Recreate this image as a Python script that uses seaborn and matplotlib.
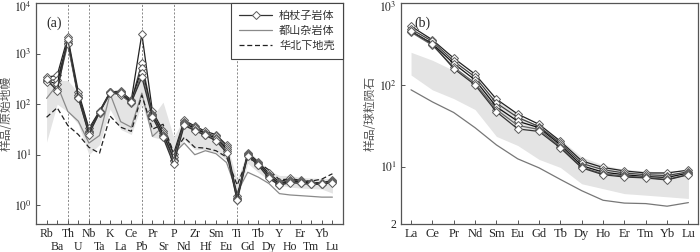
import numpy as np
import pandas as pd
import matplotlib
matplotlib.use("Agg")
import matplotlib.pyplot as plt
import matplotlib.transforms as mtransforms
from matplotlib.lines import Line2D
import seaborn as sns

# ---------------- data: panel (a) primitive-mantle normalised ----------------
spider_elements = ["Rb", "Ba", "Th", "U", "Nb", "Ta", "K", "La", "Ce", "Pb", "Pr", "Sr", "P", "Nd",
                   "Zr", "Hf", "Sm", "Eu", "Ti", "Gd", "Tb", "Dy", "Y", "Ho", "Er", "Tm", "Yb", "Lu"]
spider_guides = ["Th", "Nb", "Pb", "P", "Ti"]

bzz_a1 = [340, 370, 2100, 175, 33, 73, 175, 180, 120, 2450, 72, 30, 10.5, 48, 37, 29, 25, 15.5, 1.5, 11, 7.2, 4.3, 2.9, 3.4, 3.1, 2.8, 2.8, 3.1]
bzz_a2 = [300, 300, 1800, 150, 30, 70, 170, 175, 115, 650, 65, 27, 9.0, 45, 35, 27, 23, 14, 1.4, 10.5, 6.8, 4.0, 2.7, 3.2, 3.0, 2.7, 2.7, 3.0]
bzz_a3 = [290, 250, 1650, 140, 28, 68, 165, 160, 110, 520, 60, 25, 8.0, 42, 33, 26, 21, 13, 1.35, 10, 6.5, 3.8, 2.6, 3.0, 2.9, 2.7, 2.6, 2.9]
bzz_a4 = [280, 200, 1550, 130, 27, 66, 170, 150, 105, 420, 57, 23, 7.5, 40, 31, 25, 20, 12, 1.3, 9.8, 6.3, 3.6, 2.5, 2.9, 2.8, 2.6, 2.6, 2.9]
bzz_a5 = [320, 180, 1950, 135, 25, 70, 168, 165, 108, 340, 55, 22, 6.5, 38, 30, 24, 19, 11, 1.25, 9.5, 6.2, 3.4, 2.5, 2.8, 2.7, 2.6, 2.6, 2.8]

dsh_a = [130, 240, 72, 46, 17, 24, 160, 45, 35, 165, 23, 36, 10.5, 17, 10, 12, 10.5, 7.0, 1.8, 4.5, 3.6, 2.7, 1.7, 1.6, 1.55, 1.5, 1.45, 1.45]
ncc_lc_a = [55, 85, 38, 25, 14, 10.7, 58, 35, 29, 150, 32, 40, 11, 22, 14, 13.5, 12, 9.0, 2.5, 8.5, 7.0, 5.0, 3.2, 3.3, 3.1, 3.0, 3.3, 4.2]

band_a_hi_log = [2.34, 2.47, 2.47, 2.22, 1.55, 1.78, 2.24, 2.12, 2.04, 2.67, 1.75, 2.04, 1.35, 1.72,
                 1.52, 1.45, 1.39, 1.23, 0.50, 1.09, 0.89, 0.69, 0.59, 0.59, 0.55, 0.54, 0.53, 0.53]
band_a_lo_log = [1.25, 2.00, 1.85, 1.60, 1.00, 1.20, 1.90, 1.50, 1.40, 2.00, 1.35, 1.30, 0.95, 1.30,
                 1.10, 1.10, 1.05, 0.90, 0.10, 0.83, 0.65, 0.50, 0.40, 0.36, 0.34, 0.33, 0.32, 0.24]

# ---------------- data: panel (b) chondrite normalised ----------------
ree_elements = ["La", "Ce", "Pr", "Nd", "Sm", "Eu", "Gd", "Tb", "Dy", "Ho", "Er", "Tm", "Yb", "Lu"]

bzz_b1 = [520, 355, 212, 135, 67, 44, 33, 20.5, 11.8, 9.8, 8.9, 8.4, 8.4, 9.1]
bzz_b2 = [480, 340, 195, 125, 60, 40, 31, 19.5, 11.0, 9.2, 8.4, 8.0, 7.8, 8.7]
bzz_b3 = [450, 320, 182, 115, 54, 36, 30, 18.5, 10.3, 8.6, 8.0, 7.6, 7.4, 8.4]
bzz_b4 = [440, 305, 165, 105, 50, 32, 28.5, 17.5, 9.9, 8.2, 7.7, 7.4, 7.0, 8.1]
bzz_b5 = [455, 315, 158, 100, 47, 29, 27, 17.0, 9.7, 8.0, 7.5, 7.3, 6.9, 8.0]

dsh_b = [87, 62, 46, 30, 18.5, 12.5, 9.7, 7.0, 5.1, 3.9, 3.6, 3.55, 3.3, 3.65]

band_b_hi = [250, 200, 150, 105, 66, 43, 31, 21.5, 13.2, 10.5, 9.3, 8.9, 8.5, 8.3]
band_b_lo = [132, 87, 68, 50, 23.5, 18.2, 12.3, 9.8, 6.2, 5.4, 4.7, 4.5, 4.3, 4.1]

lab_bzz = "柏杖子岩体"
lab_dsh = "都山杂岩体"
lab_ncc = "华北下地壳"

# ---------------- style ----------------
sns.set_style("ticks")
plt.rcParams["font.family"] = ["Liberation Serif", "Noto Sans CJK SC", "DejaVu Sans"]
plt.rcParams["mathtext.fontset"] = "stix"
plt.rcParams["axes.edgecolor"] = "#555555"
plt.rcParams["axes.linewidth"] = 0.9

cjk = ["Noto Sans CJK SC", "DejaVu Sans"]
sample_colors = ["#222222", "#444444", "#111111", "#666666", "#333333"]
band_color = "#e4e4e4"

fig = plt.figure(figsize=(7.0, 2.52), dpi=100)
ax_a = fig.add_axes([36 / 700, 1 - 224 / 252, (343 - 36) / 700, (224 - 3) / 252])
ax_b = fig.add_axes([401 / 700, 1 - 224 / 252, (698 - 401) / 700, (224 - 3) / 252])


def draw_samples(ax, cats, samples):
    for i, vals in enumerate(samples):
        df = pd.DataFrame({"x": np.arange(len(cats)), "y": vals})
        sns.lineplot(data=df, x="x", y="y", ax=ax, color=sample_colors[i], lw=0.9,
                     marker="D", markersize=4.4, markerfacecolor="white",
                     markeredgecolor="#5a5a5a", markeredgewidth=0.7, zorder=5 + i)


def nudge_top_label(ax):
    lab = ax.get_yticklabels()[-1]
    off = mtransforms.ScaledTranslation(0, -2.5 / 72, fig.dpi_scale_trans)
    lab.set_transform(lab.get_transform() + off)


# ---------------- panel (a) ----------------
xa = np.arange(len(spider_elements))
ax_a.fill_between(xa, 10 ** np.array(band_a_lo_log), 10 ** np.array(band_a_hi_log),
                  color=band_color, lw=0, zorder=1)
for el in spider_guides:
    ax_a.axvline(spider_elements.index(el), color="#777777", lw=0.6, ls=(0, (2.5, 2)), zorder=0)
sns.lineplot(x=xa, y=dsh_a, ax=ax_a, color="#8a8a8a", lw=0.9, zorder=3)
sns.lineplot(x=xa, y=ncc_lc_a, ax=ax_a, color="#222222", lw=0.9, zorder=3)
ax_a.lines[-1].set_linestyle((0, (4, 2.2)))
draw_samples(ax_a, spider_elements, [bzz_a1, bzz_a2, bzz_a3, bzz_a4, bzz_a5])

ax_a.set_yscale("log")
ax_a.set_ylim(10 ** -0.37, 1e4)
ax_a.set_xlim(-1, 28)
even = xa[::2]
odd = xa[1::2]
ax_a.set_xticks(even)
ax_a.set_xticklabels(spider_elements[::2], fontsize=8.5)
ax_a.set_xticks(odd, minor=True)
ax_a.set_xticklabels(spider_elements[1::2], minor=True, fontsize=8.5)
ax_a.set_yticks([1, 10, 100, 1000, 10000])
ax_a.set_yticklabels([r"$10^{0}$", r"$10^{1}$", r"$10^{2}$", r"$10^{3}$", r"$10^{4}$"], fontsize=8.5)
ax_a.yaxis.set_minor_locator(matplotlib.ticker.NullLocator())
ax_a.tick_params(axis="both", which="both", direction="in", length=3, width=0.7, color="#555555", pad=3)
ax_a.tick_params(axis="x", which="major", pad=3)
ax_a.tick_params(axis="x", which="minor", pad=12.5)
ax_a.set_xlabel("")
ax_a.set_ylabel("样品/原始地幔", family=cjk, fontsize=8.5, color="#555555", labelpad=1)
ax_a.text(0.035, 0.91, "(a)", transform=ax_a.transAxes, fontsize=10, va="center", ha="left")
nudge_top_label(ax_a)

handles = [
    Line2D([], [], color="#333333", lw=0.9, marker="D", markersize=4.0, markerfacecolor="white",
           markeredgecolor="#5a5a5a", markeredgewidth=0.7),
    Line2D([], [], color="#8a8a8a", lw=0.9),
    Line2D([], [], color="#222222", lw=0.9, ls=(0, (4, 2.2))),
]
leg = ax_a.legend(handles, [lab_bzz, lab_dsh, lab_ncc], loc="upper right", bbox_to_anchor=(1.0, 1.0),
                  borderaxespad=0, fancybox=False, framealpha=1, edgecolor="#444444",
                  prop={"family": cjk, "size": 8}, handlelength=3.0, labelspacing=0.4,
                  borderpad=0.75, handletextpad=0.6)
leg.get_frame().set_linewidth(0.8)
for t in leg.get_texts():
    t.set_color("#333333")

# ---------------- panel (b) ----------------
xb = np.arange(len(ree_elements))
ax_b.fill_between(xb, band_b_lo, band_b_hi, color=band_color, lw=0, zorder=1)
sns.lineplot(x=xb, y=dsh_b, ax=ax_b, color="#777777", lw=0.9, zorder=3)
draw_samples(ax_b, ree_elements, [bzz_b1, bzz_b2, bzz_b3, bzz_b4, bzz_b5])

ax_b.set_yscale("log")
ax_b.set_ylim(2, 1000)
ax_b.set_xlim(-0.47, 13.45)
ax_b.set_xticks(xb)
ax_b.set_xticklabels(ree_elements, fontsize=9)
ax_b.set_yticks([2, 10, 100, 1000])
ax_b.set_yticklabels(["2", r"$10^{1}$", r"$10^{2}$", r"$10^{3}$"], fontsize=8.5)
ax_b.yaxis.set_minor_locator(matplotlib.ticker.NullLocator())
ax_b.tick_params(axis="both", direction="in", length=3, width=0.7, color="#555555", pad=3)
ax_b.set_xlabel("")
ax_b.set_ylabel("样品/球粒陨石", family=cjk, fontsize=8.5, color="#555555", labelpad=2)
ax_b.text(0.045, 0.91, "(b)", transform=ax_b.transAxes, fontsize=10, va="center", ha="left")
nudge_top_label(ax_b)

fig.savefig("out.png", dpi=100)
